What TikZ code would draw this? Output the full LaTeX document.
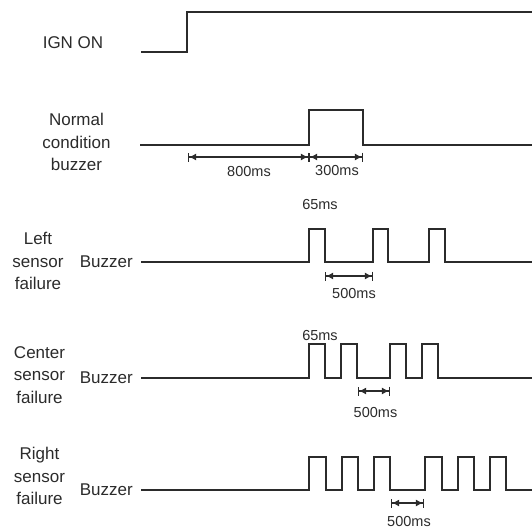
\documentclass[tikz,border=0pt]{standalone}
\usepackage{fontspec}
\setmainfont{Liberation Sans}
\usepackage{tikz}
\usetikzlibrary{arrows.meta,positioning}
\definecolor{ink}{HTML}{2B2B2B}
\tikzset{
  wave/.style={draw=ink,line width=1.1pt},
  dim/.style={{Bar[width=9pt]Latex[length=7pt,width=7pt]}-{Latex[length=7pt,width=7pt]Bar[width=9pt]},draw=ink,line width=1.1pt},
  lbl/.style={font=\fontsize{17}{22.5}\selectfont,text=ink,inner sep=0pt,align=center},
  ms/.style={font=\fontsize{14.5}{17}\selectfont,text=ink,inner sep=0pt}}

\begin{document}
\begin{tikzpicture}[x=1pt,y=-1pt,node distance=8pt]
\useasboundingbox (0,0) rectangle (532,528);
% ignition
\node[lbl] (ign) at (73,43) {IGN ON};
\draw[wave] (141,52) -- (187,52) -- (187,12) -- (532,12);
% normal condition
\node[lbl] (norm) at (76.5,142) {Normal\\condition\\buzzer};
\draw[wave] (140,145) -- (309,145) -- (309,110) -- (363,110) -- (363,145) -- (532,145);
\coordinate (n1) at (188,157); \coordinate (n2) at (309,157); \coordinate (n3) at (363,157);
\draw[dim] (n1) -- (n2); \draw[dim] (n2) -- (n3);
\node[ms] (t800) at (249,172) {800ms};
\node[ms] (t300) at (337,171) {300ms};
% left sensor
\node[lbl] (left) at (38,261) {Left\\sensor\\failure};
\coordinate (l0) at (141,262);
\node[lbl,left=of l0] (lbuz) {Buzzer};
\draw[wave] (l0) foreach \a/\b in {309/325,373/388,429/445}{ -- (\a,262) -- (\a,229) -- (\b,229) -- (\b,262)} -- (532,262);
\node[ms] (l65) at (320,205) {65ms};
\coordinate (l1) at (325,276); \coordinate (l2) at (373,276);
\draw[dim] (l1) -- (l2);
\node[ms] (l500) at (354,294) {500ms};
% center sensor
\node[lbl] (cent) at (39.5,375) {Center\\sensor\\failure};
\coordinate (c0) at (141,378);
\node[lbl,left=of c0] (cbuz) {Buzzer};
\draw[wave] (c0) foreach \a/\b in {309/325,341/357,390/406,422/438}{ -- (\a,378) -- (\a,344) -- (\b,344) -- (\b,378)} -- (532,378);
\node[ms] (c65) at (320,335) {65ms};
\coordinate (c1) at (358,391); \coordinate (c2) at (390,391);
\draw[dim] (c1) -- (c2);
\node[ms] (c500) at (375.5,412) {500ms};
% right sensor
\node[lbl] (right) at (39.5,476) {Right\\sensor\\failure};
\coordinate (r0) at (141,490);
\node[lbl,left=of r0] (rbuz) {Buzzer};
\draw[wave] (r0) foreach \a/\b in {309/326,342/358,374/390,425/442,458/474,490/506}{ -- (\a,490) -- (\a,457) -- (\b,457) -- (\b,490)} -- (532,490);
\coordinate (r1) at (391,503); \coordinate (r2) at (424,503);
\draw[dim] (r1) -- (r2);
\node[ms] (r500) at (409,521) {500ms};
\end{tikzpicture}
\end{document}
